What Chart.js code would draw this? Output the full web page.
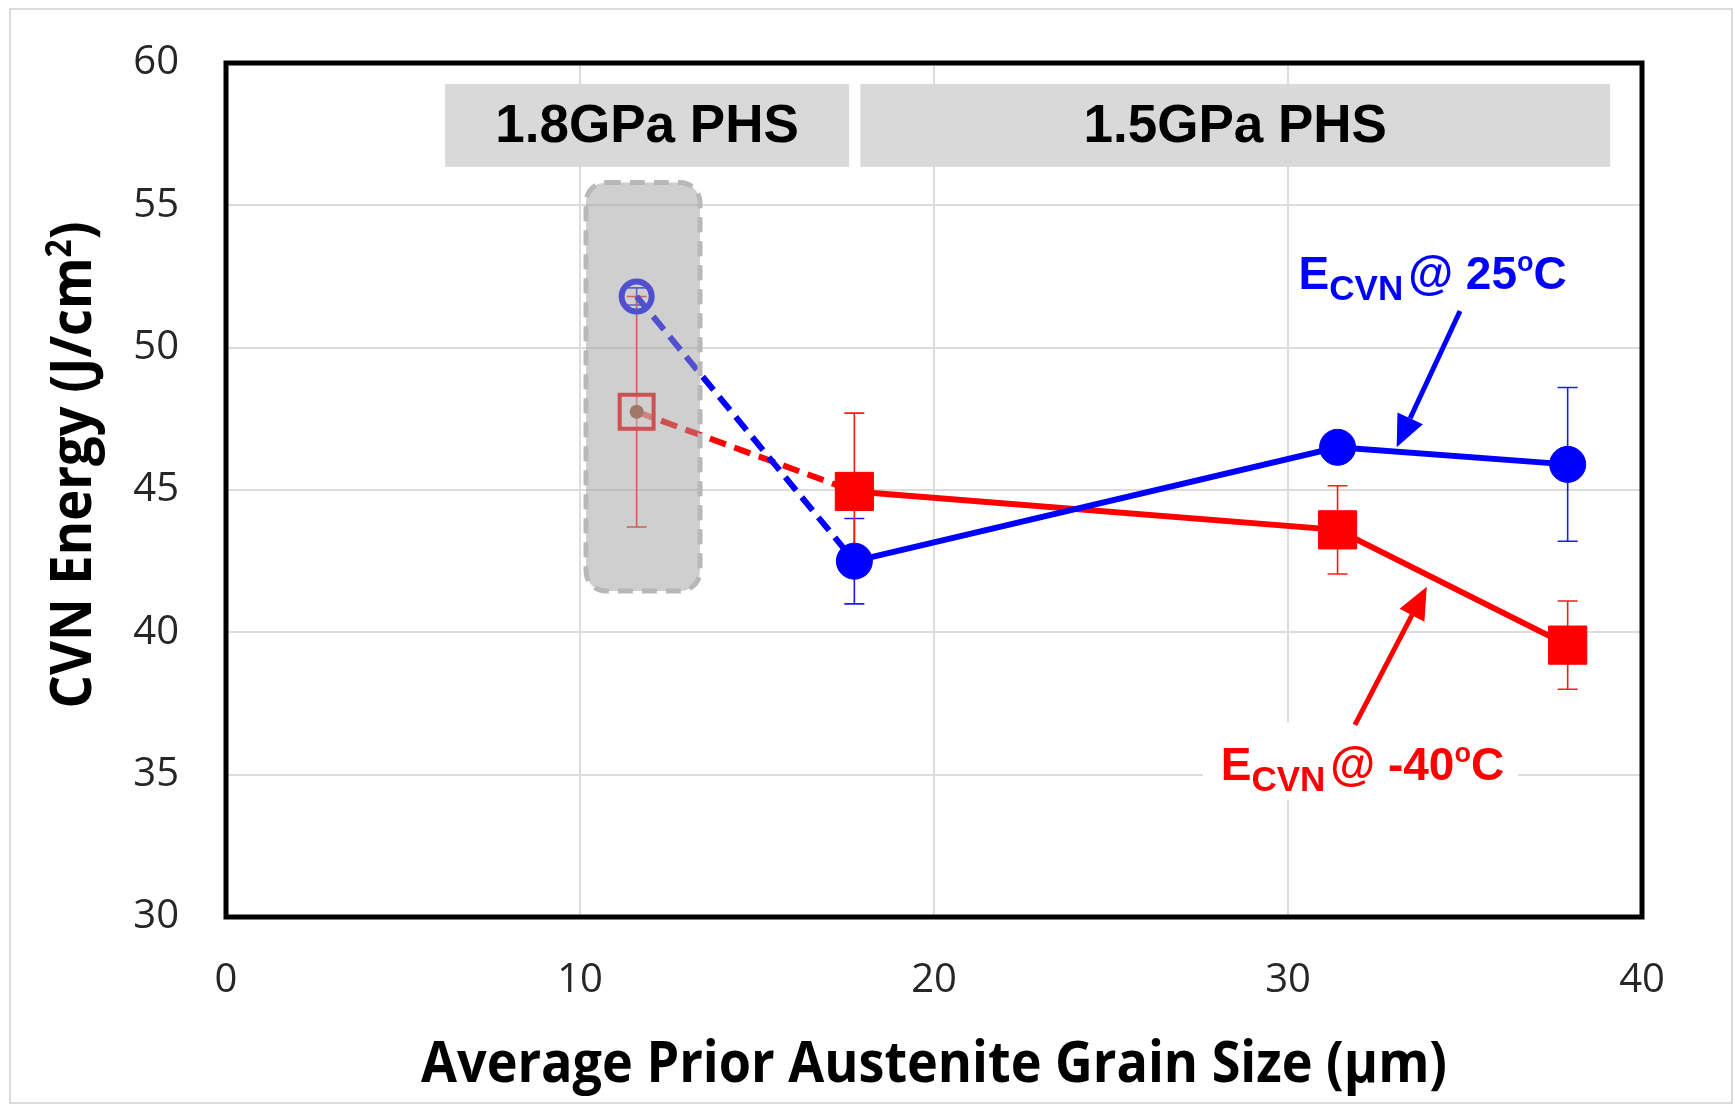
<!DOCTYPE html>
<html>
<head>
<title>CVN Energy vs Grain Size</title>
<script src="https://cdn.jsdelivr.net/npm/chart.js@4.4.0/dist/chart.umd.min.js"></script>
<style>
  body { margin: 0; background: #fff; }
  #wrap { width: 1735px; height: 1108px; }
</style>
</head>
<body>
<div id="wrap"><canvas id="cvnChart" width="1735" height="1108"></canvas></div>
<script>
// average prior austenite grain size (um), same for both series
const grainSize = [11.6, 17.75, 31.4, 37.9];
// CVN energy at 25C and its error
const cvn25 = [51.8, 42.5, 46.5, 45.9];
const err25 = [0.3, 1.5, 0.4, 2.7];
// CVN energy at -40C and its error
const cvnMinus40 = [47.75, 44.95, 43.6, 39.55];
const errMinus40 = [4.05, 2.75, 1.55, 1.55];

const xTicks = [0, 10, 20, 30, 40];
const yTicks = [30, 35, 40, 45, 50, 55, 60];
const groupLabels = ['1.8GPa PHS', '1.5GPa PHS'];

const BLUE = '#0000ff';
const RED = '#ff0000';
const FONT = '"Liberation Sans", Arial, sans-serif';
const TITLE_FONT = '"Open Sans", sans-serif';

const ctx = document.getElementById('cvnChart').getContext('2d');

function toPts(xs, ys) {
  return xs.map((x, i) => ({ x: x, y: ys[i] }));
}

// draws pieces of text one after another (for sub/superscripts)
function drawRich(c, x, y, pieces, color) {
  c.save();
  c.fillStyle = color;
  c.textBaseline = 'alphabetic';
  c.textAlign = 'left';
  let cx = x;
  pieces.forEach(p => {
    c.font = 'bold ' + p.size + 'px ' + FONT;
    c.fillText(p.t, cx, y + (p.dy || 0));
    cx += c.measureText(p.t).width + (p.gap || 0);
  });
  c.restore();
}

// axis title squeezed to a given width (original uses a narrow font)
function drawFitted(c, pieces, cx, baseY, width, size) {
  c.save();
  c.fillStyle = '#000';
  c.textBaseline = 'alphabetic';
  c.textAlign = 'left';
  let total = 0;
  pieces.forEach(p => {
    c.font = 'bold ' + Math.round(size * (p.k || 1)) + 'px ' + TITLE_FONT;
    total += c.measureText(p.t).width;
  });
  const sx = width / total;
  c.translate(cx - width / 2, baseY);
  c.scale(sx, 1);
  let x = 0;
  pieces.forEach(p => {
    c.font = 'bold ' + Math.round(size * (p.k || 1)) + 'px ' + TITLE_FONT;
    c.fillText(p.t, x, p.dy || 0);
    x += c.measureText(p.t).width;
  });
  c.restore();
}

function arrow(c, x1, y1, x2, y2, color) {
  const ang = Math.atan2(y2 - y1, x2 - x1);
  const head = 32, half = 14;
  const bx = x2 - head * Math.cos(ang), by = y2 - head * Math.sin(ang);
  c.save();
  c.strokeStyle = color;
  c.fillStyle = color;
  c.lineWidth = 5;
  c.beginPath(); c.moveTo(x1, y1); c.lineTo(bx, by); c.stroke();
  c.beginPath();
  c.moveTo(x2, y2);
  c.lineTo(bx + half * Math.sin(ang), by - half * Math.cos(ang));
  c.lineTo(bx - half * Math.sin(ang), by + half * Math.cos(ang));
  c.closePath(); c.fill();
  c.restore();
}

const decorations = {
  id: 'decorations',
  beforeDraw(chart) {
    const c = chart.ctx;
    c.save();
    c.fillStyle = '#fff';
    c.fillRect(0, 0, chart.width, chart.height);
    c.strokeStyle = '#cfcfcf';
    c.lineWidth = 1.5;
    c.strokeRect(10, 9, 1722, 1094);
    c.restore();
  },
  beforeDatasetsDraw(chart) {
    const c = chart.ctx, xs = chart.scales.x, ys = chart.scales.y;
    c.save();
    // group header boxes
    const groups = [[6.19, 17.6], [17.92, 39.1]];
    const top = ys.getPixelForValue(59.26), bot = ys.getPixelForValue(56.35);
    groups.forEach((g, i) => {
      const l = xs.getPixelForValue(g[0]), r = xs.getPixelForValue(g[1]);
      c.fillStyle = '#d9d9d9';
      c.fillRect(l, top, r - l, bot - top);
      c.fillStyle = '#000';
      c.font = 'bold 53px ' + FONT;
      c.textAlign = 'center';
      c.textBaseline = 'middle';
      c.fillText(groupLabels[i], (l + r) / 2, (top + bot) / 2 + 2);
    });
    // white patch behind the -40C label
    const wl = xs.getPixelForValue(27.6), wr = xs.getPixelForValue(36.5);
    const wt = ys.getPixelForValue(36.85), wb = ys.getPixelForValue(34.1);
    c.fillStyle = '#fff';
    c.fillRect(wl, wt, wr - wl, wb - wt);
    // error bars
    chart.data.datasets.forEach(ds => {
      if (!ds.errors) return;
      c.strokeStyle = ds.errorColor;
      c.lineWidth = 1.6;
      ds.data.forEach((p, j) => {
        const e = ds.errors[j];
        const x = xs.getPixelForValue(p.x);
        const y1 = ys.getPixelForValue(p.y + e), y2 = ys.getPixelForValue(p.y - e);
        c.beginPath();
        c.moveTo(x, y1); c.lineTo(x, y2);
        c.moveTo(x - 10, y1); c.lineTo(x + 10, y1);
        c.moveTo(x - 10, y2); c.lineTo(x + 10, y2);
        c.stroke();
      });
    });
    c.restore();
  },
  afterDatasetsDraw(chart) {
    const c = chart.ctx, xs = chart.scales.x, ys = chart.scales.y, a = chart.chartArea;
    c.save();
    // translucent dashed box over the 1.8GPa points
    const bl = xs.getPixelForValue(10.17), br = xs.getPixelForValue(13.39);
    const bt = ys.getPixelForValue(55.8), bb = ys.getPixelForValue(41.45);
    c.beginPath();
    c.roundRect(bl, bt, br - bl, bb - bt, 20);
    c.fillStyle = 'rgba(160,160,160,0.5)';
    c.fill();
    c.setLineDash([15, 9]);
    c.strokeStyle = '#b8b8b8';
    c.lineWidth = 5;
    c.stroke();
    c.setLineDash([]);
    // arrows
    arrow(c, xs.getPixelForValue(34.86), ys.getPixelForValue(51.29),
             xs.getPixelForValue(33.07), ys.getPixelForValue(46.5), BLUE);
    arrow(c, xs.getPixelForValue(31.89), ys.getPixelForValue(36.75),
             xs.getPixelForValue(33.92), ys.getPixelForValue(41.6), RED);
    // series labels
    drawRich(c, xs.getPixelForValue(30.3), ys.getPixelForValue(52.06), [
      { t: 'E', size: 46 }, { t: 'CVN', size: 35, dy: 11, gap: 5 },
      { t: '@ 25', size: 46 }, { t: 'o', size: 27, dy: -18 }, { t: 'C', size: 46 }
    ], BLUE);
    drawRich(c, xs.getPixelForValue(28.1), ys.getPixelForValue(34.8), [
      { t: 'E', size: 46 }, { t: 'CVN', size: 35, dy: 11, gap: 5 },
      { t: '@ -40', size: 46 }, { t: 'o', size: 27, dy: -18 }, { t: 'C', size: 46 }
    ], RED);
    // plot frame
    c.strokeStyle = '#000';
    c.lineWidth = 5;
    c.strokeRect(a.left, a.top, a.right - a.left, a.bottom - a.top);
    c.restore();
  },
  afterDraw(chart) {
    const c = chart.ctx, a = chart.chartArea;
    drawFitted(c, [{ t: 'Average Prior Austenite Grain Size (\u03bcm)' }],
      (a.left + a.right) / 2, 1082, 1026, 58);
    c.save();
    c.translate(91, 465);
    c.rotate(-Math.PI / 2);
    drawFitted(c, [{ t: 'CVN Energy (J/cm' }, { t: '2', k: 0.6, dy: -20 }, { t: ')' }],
      0, 0, 487, 58);
    c.restore();
  }
};

new Chart(ctx, {
  type: 'scatter',
  data: {
    datasets: [
      {
        label: 'E_CVN @ 25oC',
        data: toPts(grainSize, cvn25),
        errors: err25,
        errorColor: '#1a1aff',
        showLine: true,
        borderColor: BLUE,
        borderWidth: 6,
        pointStyle: 'circle',
        pointRadius: [15, 18, 18, 18],
        pointBorderWidth: [6, 1, 1, 1],
        pointBackgroundColor: ['rgba(255,255,255,0)', BLUE, BLUE, BLUE],
        pointBorderColor: BLUE,
        segment: { borderDash: s => s.p0DataIndex === 0 ? [17, 9] : undefined },
        order: 1
      },
      {
        label: 'E_CVN @ -40oC',
        data: toPts(grainSize, cvnMinus40),
        errors: errMinus40,
        errorColor: '#ff1a1a',
        showLine: true,
        borderColor: RED,
        borderWidth: 6,
        pointStyle: 'rect',
        pointRadius: [24, 27, 27, 27],
        pointBorderWidth: [4, 1, 1, 1],
        pointBackgroundColor: ['rgba(255,255,255,0.4)', RED, RED, RED],
        pointBorderColor: RED,
        segment: { borderDash: s => s.p0DataIndex === 0 ? [17, 9] : undefined },
        order: 2
      },
      {
        label: 'core',
        data: toPts(grainSize.slice(0, 1), cvnMinus40.slice(0, 1)),
        showLine: false,
        pointRadius: 7,
        pointBorderWidth: 0,
        pointBackgroundColor: '#a0502c',
        order: 0
      }
    ]
  },
  options: {
    responsive: false,
    animation: false,
    devicePixelRatio: 1,
    layout: { padding: { top: 63, right: 93, left: 0, bottom: 0 } },
    plugins: { legend: { display: false }, tooltip: { enabled: false } },
    scales: {
      x: {
        type: 'linear',
        min: xTicks[0],
        max: xTicks[xTicks.length - 1],
        afterBuildTicks: s => { s.ticks = xTicks.map(v => ({ value: v })); },
        afterFit: s => { s.height = 191; },
        grid: { color: '#dcdcdc', lineWidth: 2, drawTicks: false },
        border: { display: false },
        ticks: { padding: 40, color: '#262626', font: { family: TITLE_FONT, size: 40 } }
      },
      y: {
        type: 'linear',
        min: yTicks[0],
        max: yTicks[yTicks.length - 1],
        afterBuildTicks: s => { s.ticks = yTicks.map(v => ({ value: v })); },
        afterFit: s => { s.width = 226; s.paddingTop = 0; s.paddingBottom = 0; },
        grid: { color: '#dcdcdc', lineWidth: 2, drawTicks: false },
        border: { display: false },
        ticks: { padding: 47, color: '#262626', font: { family: TITLE_FONT, size: 40 } }
      }
    }
  },
  plugins: [decorations]
});
</script>
</body>
</html>
